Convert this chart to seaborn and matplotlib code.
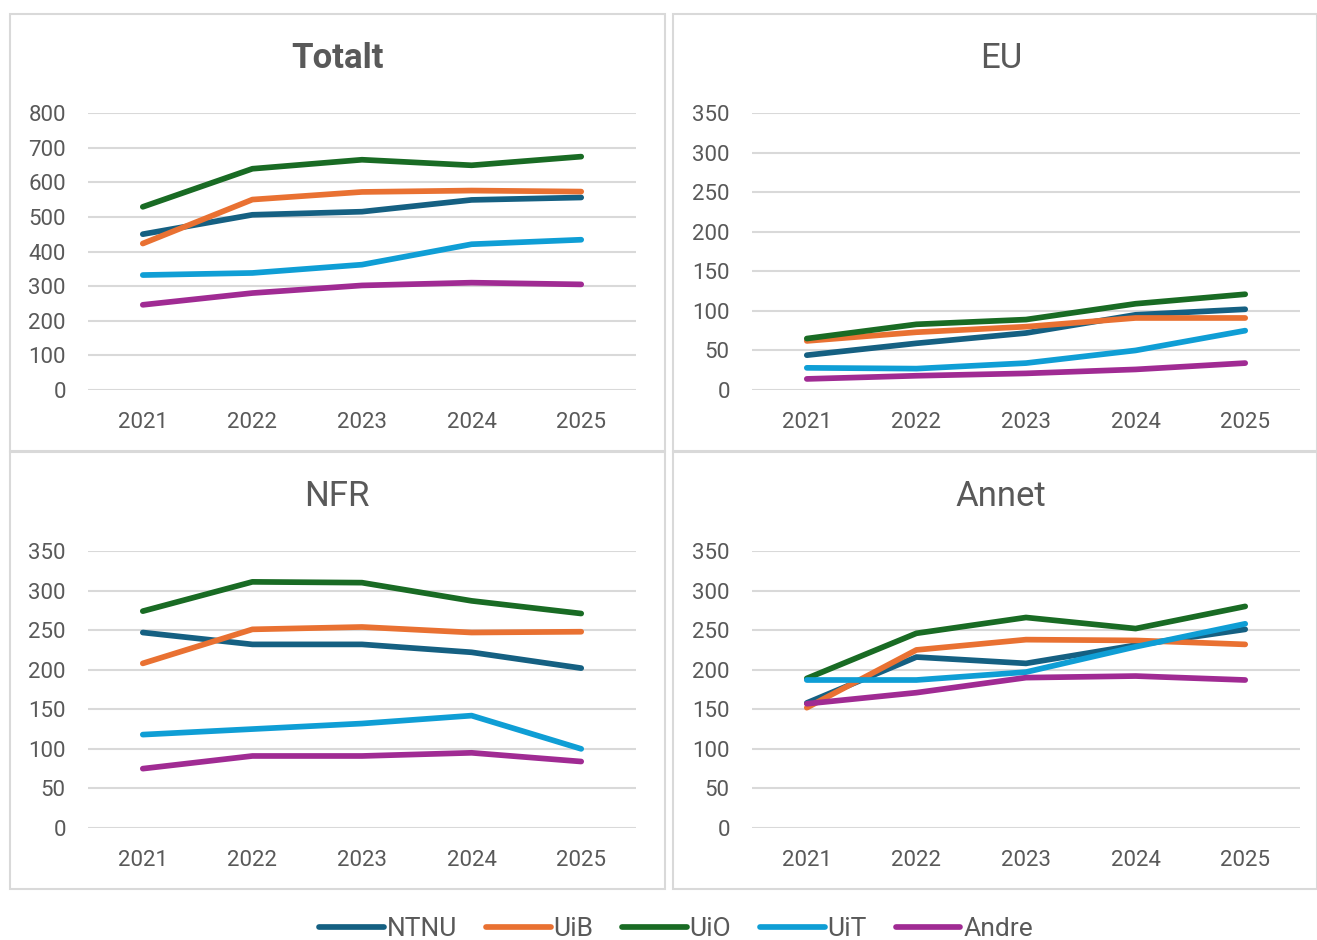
# === Forskningsinntekter per institusjon - 4 paneler ===

import pandas as pd
import matplotlib.pyplot as plt
from matplotlib.patches import Rectangle
import seaborn as sns

# === Data (lest av figuren) ===
years = [2021, 2022, 2023, 2024, 2025]
institutions = ["NTNU", "UiB", "UiO", "UiT", "Andre"]
colors = ["#156082", "#E97132", "#196B24", "#0F9ED5", "#A02B93"]

totalt_ntnu = [450, 506, 515, 549, 556]
totalt_uib = [423, 550, 572, 576, 573]
totalt_uio = [529, 639, 665, 649, 674]
totalt_uit = [332, 338, 362, 421, 434]
totalt_andre = [246, 280, 302, 310, 305]

eu_ntnu = [44, 59, 72, 95, 102]
eu_uib = [62, 73, 80, 91, 91]
eu_uio = [65, 83, 89, 109, 121]
eu_uit = [28, 27, 34, 50, 75]
eu_andre = [14, 18, 21, 26, 34]

nfr_ntnu = [247, 232, 232, 222, 202]
nfr_uib = [208, 251, 254, 247, 248]
nfr_uio = [274, 311, 310, 287, 271]
nfr_uit = [118, 125, 132, 142, 100]
nfr_andre = [75, 91, 91, 95, 84]

annet_ntnu = [158, 216, 208, 231, 251]
annet_uib = [152, 225, 238, 237, 232]
annet_uio = [189, 246, 266, 252, 280]
annet_uit = [187, 187, 197, 229, 258]
annet_andre = [157, 171, 190, 192, 187]

panels = {
    "Totalt": [totalt_ntnu, totalt_uib, totalt_uio, totalt_uit, totalt_andre],
    "EU": [eu_ntnu, eu_uib, eu_uio, eu_uit, eu_andre],
    "NFR": [nfr_ntnu, nfr_uib, nfr_uio, nfr_uit, nfr_andre],
    "Annet": [annet_ntnu, annet_uib, annet_uio, annet_uit, annet_andre],
}
y_max = {"Totalt": 800, "EU": 350, "NFR": 350, "Annet": 350}
y_step = {"Totalt": 100, "EU": 50, "NFR": 50, "Annet": 50}

# === Style ===
sns.set_style("white")
plt.rcParams["font.family"] = ["Roboto", "DejaVu Sans"]
plt.rcParams["lines.solid_capstyle"] = "round"
text_color = "#595959"
grid_color = "#D9D9D9"

W, H = 1317, 940
fig = plt.figure(figsize=(W / 100, H / 100), dpi=100)

# panel frames (pixels: x0, y0, x1, y1) and plot areas
frames = {
    "Totalt": (10, 14, 665, 451),
    "EU": (673, 14, 1317, 451),
    "NFR": (10, 452, 665, 889),
    "Annet": (673, 452, 1317, 889),
}
areas = {
    "Totalt": (88, 113, 636, 390),
    "EU": (752, 113, 1300, 390),
    "NFR": (88, 551, 636, 828),
    "Annet": (752, 551, 1300, 828),
}
title_pos = {"Totalt": (337, 58), "EU": (1001, 58), "NFR": (337, 496), "Annet": (1001, 496)}

for name, (x0, y0, x1, y1) in frames.items():
    fig.patches.append(Rectangle((x0 / W, 1 - y1 / H), (x1 - x0) / W, (y1 - y0) / H,
                                 transform=fig.transFigure, fill=False,
                                 edgecolor=grid_color, linewidth=1.5))

for name, series in panels.items():
    x0, y0, x1, y1 = areas[name]
    ax = fig.add_axes([x0 / W, 1 - y1 / H, (x1 - x0) / W, (y1 - y0) / H])

    df = pd.DataFrame({
        "year": years * len(institutions),
        "value": [v for s in series for v in s],
        "inst": [i for i in institutions for _ in years],
    })
    sns.lineplot(data=df, x="year", y="value", hue="inst", hue_order=institutions,
                 palette=colors, linewidth=4.1, ax=ax, legend=False, zorder=3)

    ax.set_xlim(2020.5, 2025.5)
    ax.set_ylim(0, y_max[name])
    ax.set_xticks(years)
    ax.set_yticks(range(0, y_max[name] + 1, y_step[name]))
    ax.set_xlabel("")
    ax.set_ylabel("")
    ax.grid(axis="y", color=grid_color, linewidth=1.5)
    ax.set_axisbelow(True)
    for sp in ax.spines.values():
        sp.set_visible(False)
    ax.tick_params(axis="both", length=0, labelsize=16, labelcolor=text_color)
    ax.tick_params(axis="y", pad=16)
    ax.tick_params(axis="x", pad=16)

    tx, ty = title_pos[name]
    fig.text(tx / W, 1 - ty / H, name, ha="center", va="center",
             fontsize=25, color=text_color,
             fontweight="bold" if name == "Totalt" else "normal")

# === Legend ===
handles = [plt.Line2D([], [], color=c, linewidth=4.1) for c in colors]
fig.legend(handles, institutions, loc="center", bbox_to_anchor=(676 / W, 1 - 929 / H),
           ncol=5, frameon=False, fontsize=19, labelcolor=text_color,
           handlelength=2.45, handletextpad=0.1, columnspacing=1.1)

fig.savefig("out.png", dpi=100)
